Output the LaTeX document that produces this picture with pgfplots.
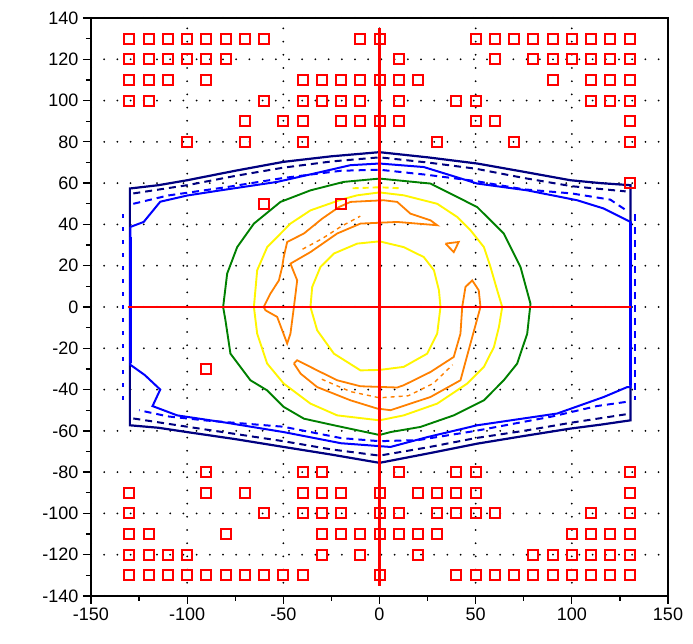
\documentclass[border=0pt]{standalone}
\usepackage{pgfplots}
\pgfplotsset{compat=1.18}
\usepackage{fontspec}
\setmainfont{Liberation Sans}
\definecolor{navy}{RGB}{0,0,128}
\definecolor{cblue}{RGB}{0,0,255}
\definecolor{cgreen}{RGB}{0,128,0}
\definecolor{cyellow}{RGB}{255,245,0}
\definecolor{corange}{RGB}{255,128,0}
\begin{document}
\begin{tikzpicture}[x=1pt,y=1pt]
\path[use as bounding box] (-91,-48) rectangle (602,596);
\begin{axis}[
  at={(0,0)}, anchor=south west,
  scale only axis, width=577pt, height=578pt,
  xmin=-150, xmax=150, ymin=-140, ymax=140,
  xtick={-150,-100,...,150}, ytick={-140,-120,...,140},
  minor xtick={-125,-75,...,125}, minor ytick={-130,-110,...,130},
  tick align=outside, xtick pos=left, ytick pos=left,
  major tick length=8pt, minor tick length=5pt,
  every tick/.style={black, line width=1.3pt},
  axis line style={line width=1.6pt},
  tick label style={font=\fontsize{18}{18}\selectfont},
  yticklabel style={xshift=-1pt},
  /pgf/number format/assume math mode=true,
  grid=major,
  major grid style={black, line width=2pt, dash pattern=on 0pt off 13.2pt, line cap=round},
  clip=false,
]
% navy solid
\addplot[navy, line width=2.2pt] coordinates {
(-129.8,-55.7)(-129.8,57.4)(-115,59)(-100,61.4)(-75,66)(-50,70.3)(-25,73)(0,75)(25,72.5)(50.8,69.5)(75,65.5)(99.3,61.4)(115,60)(130.5,59)(130.5,-54.9)(115,-57)(99.3,-58.9)(75,-62.5)(50.8,-66.2)(25,-71)(0,-75.5)(-25,-71.5)(-49.8,-67.8)(-75,-64)(-100,-60.6)(-115,-58.5)(-129.8,-57.3)(-129.8,-55.7)};
% navy dashed
\addplot[navy, line width=2pt, dash pattern=on 7pt off 5pt] coordinates {
(-128,55)(-100,59)(-75,63.5)(-50,67.5)(-25,70.5)(0,72.5)(25,70)(50,67)(75,62.5)(100,58.5)(128,56)};
\addplot[navy, line width=2pt, dash pattern=on 7pt off 5pt] coordinates {
(-128,-54)(-100,-58)(-75,-61.5)(-50,-65)(-25,-69)(0,-72)(25,-68)(50,-63.5)(75,-60)(100,-56)(128,-52)};
% blue solid
\addplot[cblue, line width=2pt] coordinates {
(-129.5,38.8)(-122.6,41.2)(-114,51)(-100,54)(-82.7,56.5)(-53.2,60.6)(-30,65.5)(-15.1,68.7)(0,69.5)(23,67.8)(50.8,59.8)(76.8,56.5)(102.8,51.7)(116.6,47.7)(130.5,41.2)(130.5,-38.8)(128.8,-38.8)(116.6,-43.6)(92.4,-51.6)(50.8,-57.3)(25,-63)(5.7,-67.8)(-20,-66)(-49.8,-60.6)(-80,-56)(-105.2,-52.5)(-118,-48)(-114,-40)(-122,-33)(-129.5,-28)(-129.5,38.8)};
\addplot[cblue, line width=3pt] coordinates {(-129.5,34)(-129.5,-27)};
\addplot[cblue, line width=3pt] coordinates {(130.5,41)(130.5,-38)};
% blue dashed
\addplot[cblue, line width=2pt, dash pattern=on 7pt off 5pt] coordinates {
(-128,50)(-110,54)(-80,58)(-50,62.5)(-20,66)(0,66.5)(25,64)(50,61)(75,57)(100,55)(120,52)(128,47)};
\addplot[cblue, line width=2pt, dash pattern=on 7pt off 5pt] coordinates {
(128,-46)(113,-48)(90,-53)(50,-60)(20,-64.5)(0,-65)(-20,-63.5)(-50,-58)(-90,-55)(-110,-53)(-125,-50)};
\addplot[cblue, line width=2pt, dash pattern=on 7pt off 6pt] coordinates {(133,45)(133,-45)};
\addplot[cblue, line width=2pt, dash pattern=on 4pt off 9pt] coordinates {(-133.5,45)(-133.5,-45)};
% green
\addplot[cgreen, line width=1.9pt] coordinates {
(-81.3,0)(-79.2,16.2)(-74,29)(-65.3,40.4)(-51.5,50.9)(-35.9,56.5)(-18.6,60.6)(0,62.2)(26.5,59.8)(50.8,48.4)(64.6,35.6)(73.3,19.4)(78.5,1.6)(76.8,-12.9)(71.6,-27.4)(64.6,-35.5)(54.3,-45.2)(38.6,-52.5)(21.3,-58.1)(5.7,-60.6)(0,-62)(-23.7,-57.3)(-39.3,-54.1)(-49.8,-48.4)(-58.4,-40.4)(-67.1,-35.5)(-77.5,-22.6)(-80.1,-6.4)(-81.3,0)};
% yellow outer
\addplot[cyellow, line width=1.9pt] coordinates {
(-65.3,0)(-63.6,17.8)(-58.4,29)(-46.3,40.4)(-35.9,46.8)(-20,52)(-11.6,54.1)(0,55.5)(12.6,54.1)(30,50)(40.4,43.6)(47.3,37.2)(54.3,29)(57.7,19.4)(61.2,8.1)(63.8,0)(62.1,-9.7)(59.5,-19.4)(54.3,-29)(45.6,-37.1)(30,-46.8)(12.6,-52.5)(0,-54.9)(-22,-52.5)(-35.9,-46.8)(-49.8,-37.1)(-58.4,-27.4)(-63.6,-12.9)(-65.3,0)};
\addplot[cyellow, line width=1.9pt, dash pattern=on 6pt off 4pt] coordinates {(-14,57.5)(0,58)(11,57.5)};
% yellow inner
\addplot[cyellow, line width=1.9pt] coordinates {
(-35.9,0)(-35,9.7)(-30.7,19.4)(-23.7,25.9)(-11.6,30.7)(0,31.8)(12.6,29)(23,24.2)(28.3,17.8)(30.9,8.1)(31.7,0)(30,-12.9)(24.8,-22.6)(12.6,-29)(0,-30.5)(-9.9,-30.7)(-23.7,-22.6)(-32.4,-11.3)(-35.9,0)};
% orange
\addplot[corange, line width=1.8pt] coordinates {
(-21.1,48.4)(-29.8,42.8)(-39.3,35.6)(-48,31.5)(-49.8,24.2)(-50.6,19.4)(-52.3,12.9)(-56.7,6.5)(-60.2,0)(-59.3,-1.6)(-53.2,-4.8)(-48,-17.7)(-46.3,-12.9)(-44.5,0)(-42.8,12.9)(-46.3,21)(-35.9,26.6)(-22,35.6)(-9.9,40.4)(9.2,41.2)(30,39.6)(26.5,42)(16.1,45.2)(9.2,50.9)(2.2,51.7)(-4.7,51.4)(-15.1,50.9)(-21.1,48.4)};
\addplot[corange, line width=1.8pt] coordinates {
(-44.5,-27.4)(-42.8,-25.8)(-32.4,-30.7)(-22,-35.5)(-9.9,-38.4)(9.2,-39)(12.6,-37.9)(26.5,-31.5)(38.6,-24.2)(42.1,-12.9)(43,0)(44.7,9.7)(48.2,12.9)(51.6,8.1)(52.5,0)(47.3,-17.7)(42.1,-35.5)(26.5,-43.6)(5.7,-50)(-1.2,-49.2)(-15.1,-45.2)(-32.4,-38.8)(-41,-32.3)(-44.5,-27.4)};
\addplot[corange, line width=1.8pt] coordinates {(34.3,30.7)(41.2,31.5)(38.6,26.6)(34.3,30.7)};
\addplot[corange, line width=1.4pt, dash pattern=on 4pt off 4pt] coordinates {(-30,-35)(-15,-41)(0,-44)(15,-43)(28,-37)(38,-28)};
\addplot[corange, line width=1.4pt, dash pattern=on 4pt off 4pt] coordinates {(-40,28)(-30,33)(-20,39)(-10,44)};
% red squares
\addplot[only marks, mark=square, mark size=5pt, red, mark options={line width=2pt}] coordinates {
(-130,130)(-120,130)(-110,130)(-100,130)(-90,130)(-80,130)(-70,130)(-60,130)(-10,130)(0,130)(50,130)(60,130)(70,130)(80,130)(90,130)(100,130)(110,130)(120,130)(130,130)
(-130,120)(-120,120)(-110,120)(-100,120)(-90,120)(-80,120)(10,120)(60,120)(80,120)(90,120)(100,120)(110,120)(120,120)(130,120)
(-130,110)(-120,110)(-110,110)(-90,110)(-40,110)(-30,110)(-20,110)(-10,110)(0,110)(10,110)(20,110)(90,110)(110,110)(120,110)(130,110)
(-130,100)(-120,100)(-60,100)(-40,100)(-30,100)(-20,100)(-10,100)(10,100)(40,100)(50,100)(110,100)(120,100)(130,100)
(-70,90)(-50,90)(-40,90)(-20,90)(-10,90)(0,90)(10,90)(50,90)(60,90)(130,90)
(-100,80)(-70,80)(-40,80)(30,80)(70,80)(130,80)
(130,60)(-60,50)(-20,50)(-90,-30)
(-90,-80)(-40,-80)(-30,-80)(10,-80)(40,-80)(50,-80)(130,-80)
(-130,-90)(-90,-90)(-70,-90)(-40,-90)(-30,-90)(-20,-90)(0,-90)(20,-90)(30,-90)(40,-90)(50,-90)(130,-90)
(-130,-100)(-60,-100)(-40,-100)(-30,-100)(-20,-100)(0,-100)(10,-100)(30,-100)(40,-100)(50,-100)(60,-100)(110,-100)(130,-100)
(-130,-110)(-120,-110)(-80,-110)(-30,-110)(-20,-110)(-10,-110)(0,-110)(10,-110)(20,-110)(30,-110)(100,-110)(110,-110)(120,-110)(130,-110)
(-130,-120)(-120,-120)(-110,-120)(-100,-120)(-30,-120)(-10,-120)(20,-120)(80,-120)(90,-120)(100,-120)(110,-120)(120,-120)(130,-120)
(-130,-130)(-120,-130)(-110,-130)(-100,-130)(-90,-130)(-80,-130)(-70,-130)(-60,-130)(-50,-130)(-40,-130)(0,-130)(40,-130)(50,-130)(60,-130)(70,-130)(80,-130)(90,-130)(100,-130)(110,-130)(120,-130)(130,-130)
};
% red axes lines
\addplot[red, line width=2.2pt] coordinates {(-131,0)(131,0)};
\addplot[red, line width=2.2pt] coordinates {(0,-135)(0,135)};
\end{axis}
\end{tikzpicture}
\end{document}
